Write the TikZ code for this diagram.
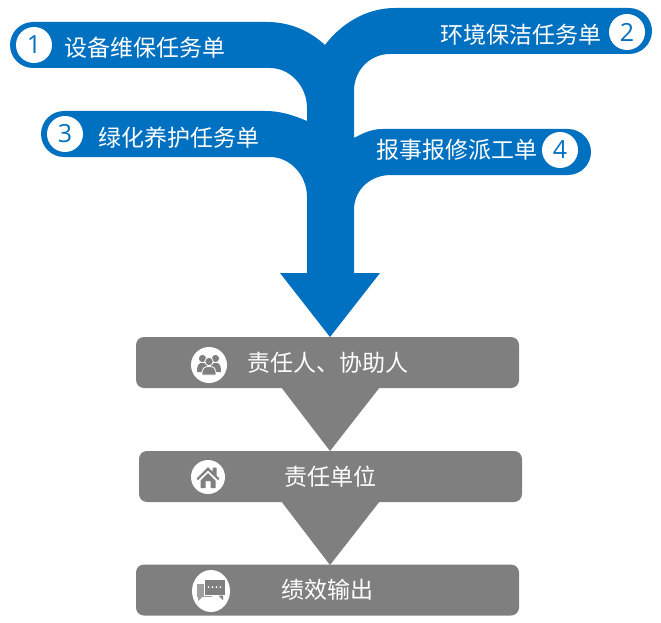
\documentclass[tikz,border=0pt]{standalone}
\usepackage{fontspec}
\setmainfont{Noto Sans CJK SC}
\newfontfamily\numfont{Open Sans}
\usetikzlibrary{shapes.geometric}
\definecolor{taskblue}{HTML}{0070C0}
\definecolor{stepgray}{HTML}{7F7F7F}
\begin{document}
\begin{tikzpicture}[x=1pt,y=-1pt,
  tasktext/.style={text=white,font=\fontsize{23}{23}\selectfont,inner sep=0pt},
  tasknum/.style={circle,fill=white,text=taskblue,minimum size=36pt,inner sep=0pt,font=\numfont\fontsize{25}{25}\selectfont},
  stepbox/.style={rounded corners=8pt,fill=stepgray,text=white,minimum width=383pt,minimum height=51pt,inner sep=0pt,font=\fontsize{23}{23}\selectfont},
  iconback/.style={fill=white,draw=none,inner sep=0pt}]
\useasboundingbox (0,0) rectangle (661,623);

\fill[taskblue] (33,22) -- (267,22) .. controls (290,22) and (310,31) .. (325,45)
  .. controls (340,25) and (365,8) .. (395,8) -- (629,8)
  .. controls (641.7,8) and (652,18.3) .. (652,31) .. controls (652,43.7) and (641.7,54) .. (629,54)
  -- (390,54) .. controls (370,54) and (354,70) .. (354,91) -- (354,138)
  .. controls (362,134) and (370,129) .. (383,129) -- (568,129)
  .. controls (580.7,129) and (591,139.3) .. (591,152) .. controls (591,164.7) and (580.7,175) .. (568,175)
  -- (391,175) .. controls (370,175) and (354,190) .. (354,210) -- (354,273) -- (380,273)
  -- (330,337) -- (280,273) -- (307,273) -- (307,197)
  .. controls (307,175) and (290,157) .. (270,157) -- (64,157)
  .. controls (51.3,157) and (41,146.7) .. (41,134) .. controls (41,121.3) and (51.3,111) .. (64,111)
  -- (265,111) .. controls (282,111) and (295,116) .. (307,121) -- (307,108)
  .. controls (307,86) and (290,68) .. (270,68) -- (33,68)
  .. controls (20.3,68) and (10,57.7) .. (10,45) .. controls (10,32.3) and (20.3,22) .. (33,22) -- cycle;

\node[tasknum] (num1) at (34,45) {1};
\node[tasknum] (num2) at (627,32) {2};
\node[tasknum] (num3) at (65,134) {3};
\node[tasknum] (num4) at (560,150) {4};
\node[tasktext] (task1) at (145,48) {设备维保任务单};
\node[tasktext] (task2) at (521,35) {环境保洁任务单};
\node[tasktext] (task3) at (178.5,138) {绿化养护任务单};
\node[tasktext] (task4) at (457,150) {报事报修派工单};

\fill[stepgray] (281,387) -- (380,387) -- (330,451) -- cycle;
\fill[stepgray] (281,501) -- (380,501) -- (330,565) -- cycle;
\node[stepbox] (duty) at (327.5,362.5) {责任人、协助人};
\node[stepbox] (unit) at (330.5,476.5) {责任单位};
\node[stepbox] (output) at (327.5,590) {绩效输出};

\node[iconback,circle,minimum size=36pt] (iconduty) at (209,365) {};
\node[iconback,circle,minimum size=34pt] (iconunit) at (208,477) {};
\node[iconback,ellipse,minimum width=38pt,minimum height=42pt] (iconoutput) at (211,591) {};

\fill[stepgray] (202.5,358.5) circle (3.6);
\fill[stepgray] (215.5,358.5) circle (3.6);
\fill[stepgray] (197,372) .. controls (197,364) and (199,363) .. (202.5,363) .. controls (206,363) and (208,364) .. (208,372) -- cycle;
\fill[stepgray] (210,372) .. controls (210,364) and (212,363) .. (215.5,363) .. controls (219,363) and (221,364) .. (221,372) -- cycle;
\fill[stepgray,draw=white,line width=.8pt] (209,361.5) circle (4.2);
\fill[stepgray,draw=white,line width=.8pt] (202,375) .. controls (202,368) and (204,366.5) .. (209,366.5) .. controls (214,366.5) and (216,368) .. (216,375) -- cycle;

\fill[stepgray] (196.5,478.5) -- (208,467) -- (212.5,471.5) -- (212.5,467.5) -- (216.5,467.5) -- (216.5,475.5) -- (219.5,478.5) -- (218,480) -- (208,470.5) -- (198,480) -- cycle;
\fill[stepgray] (200.5,480.5) -- (208,473) -- (215.5,480.5) -- (215.5,488) -- (210.5,488) -- (210.5,481) -- (205.5,481) -- (205.5,488) -- (200.5,488) -- cycle;

\fill[stepgray!75] (197,584) rectangle (212,597);
\fill[stepgray!75] (198,597) -- (198,601) -- (202.5,597) -- cycle;
\fill[stepgray,draw=white,line width=.6pt] (204,579) rectangle (225,595.5);
\fill[stepgray] (218.5,595.5) -- (223,600) -- (223,595.5) -- cycle;
\fill[white] (208.5,587) circle (1);
\fill[white] (212.5,587) circle (1);
\fill[white] (216.5,587) circle (1);
\fill[white] (220.5,587) circle (1);
\end{tikzpicture}
\end{document}
